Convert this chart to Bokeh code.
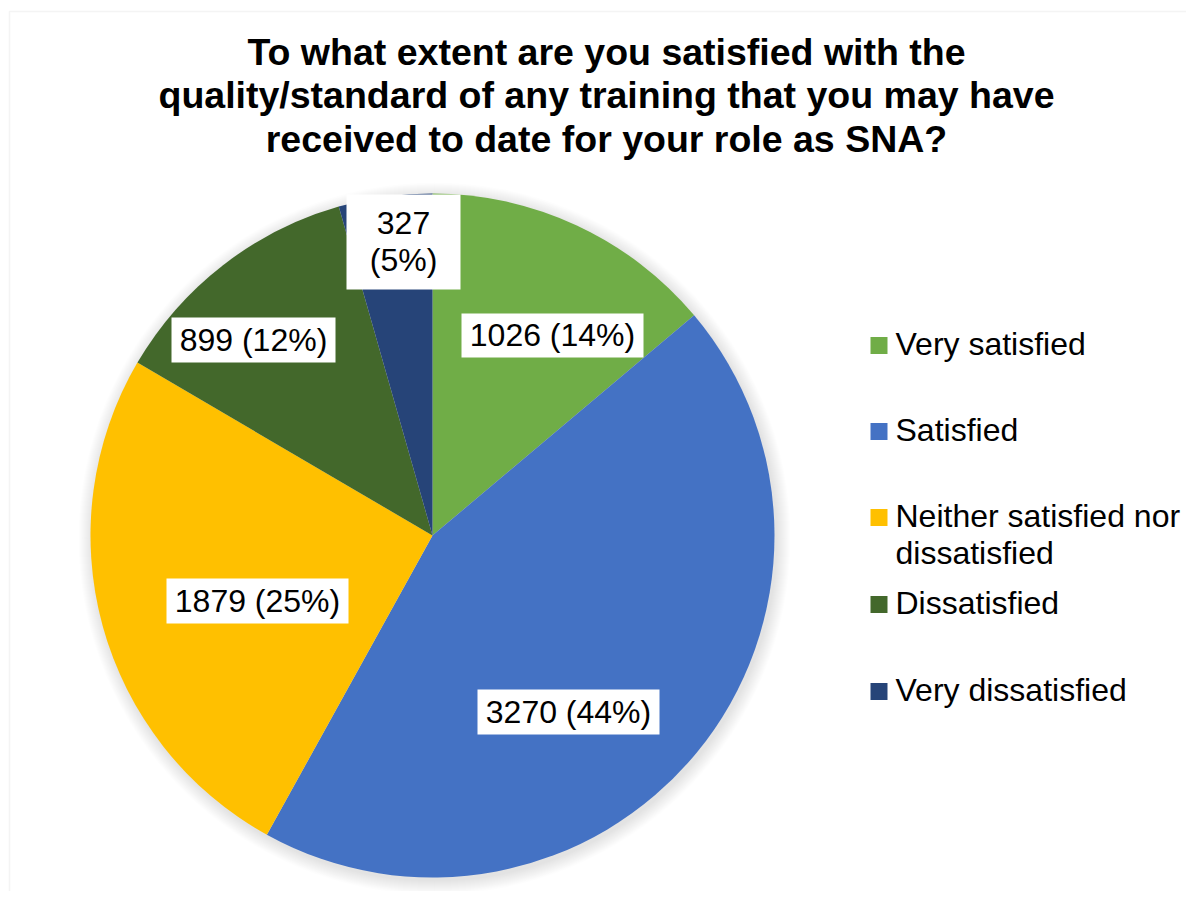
import math
from bokeh.plotting import figure
from bokeh.models import Range1d, BoxAnnotation
from bokeh.core.properties import value
from bokeh.embed import file_html
from bokeh.resources import INLINE

# ---------------- data ----------------
categories = ["Very satisfied", "Satisfied", "Neither satisfied nor dissatisfied",
              "Dissatisfied", "Very dissatisfied"]
legend_lines = [["Very satisfied"], ["Satisfied"], ["Neither satisfied nor", "dissatisfied"],
                ["Dissatisfied"], ["Very dissatisfied"]]
counts = [1026, 3270, 1879, 899, 327]
pct_labels = ["14%", "44%", "25%", "12%", "5%"]
colors = ["#70AD47", "#4472C4", "#FFC000", "#43682B", "#264478"]
title_lines = ["To what extent are you satisfied with the",
               "quality/standard of any training that you may have",
               "received to date for your role as SNA?"]

# ---------------- layout (page pixels) ----------------
W, H = 1186, 891


def py(page_y):
    return H - page_y


FONT = "Liberation Sans"
LBL_SIZE = 32
TITLE_SIZE = 37.5
cx, cy_page, R = 432, 535, 342
cy = py(cy_page)


def base_fix(size):
    # empirical shift so that the drawn alphabetic baseline lands where measured
    return 0.35 * size


# label box offsets from pie centre (page px, dy downward), and box sizes
label_offsets = [(120, -200), (136, 176.5), (-175, 65.5), (-179, -195.5), (-29, -293.5)]
label_box = [(182, 44), (182, 45), (182, 45), (164, 45), (114, 95)]
label_split = [False, False, False, False, True]

p = figure(width=W, height=H, x_range=Range1d(0, W), y_range=Range1d(0, H),
           output_backend="svg", toolbar_location=None, min_border=0)
p.axis.visible = False
p.grid.visible = False
p.outline_line_color = None
p.background_fill_color = "white"
p.border_fill_color = "white"

# chart area border (only top/left visible)
p.add_layout(BoxAnnotation(left=9, right=1400, top=py(11), bottom=-200,
                           fill_alpha=0, line_color="#d9d9d9", line_width=1.5))

# title
for i, t in enumerate(title_lines):
    p.text(x=[606], y=[py([65, 108, 152][i] - base_fix(TITLE_SIZE))], text=[t],
           text_font=value(FONT), text_font_size=f"{TITLE_SIZE}px", text_font_style="bold",
           text_color="#000000", text_align="center", text_baseline="alphabetic")

# soft shadow
n_sh = 14
p.circle(x=[cx + 2] * n_sh, y=[cy - 3] * n_sh, radius=[R + 1 + k for k in range(n_sh)],
         fill_color="black", fill_alpha=0.009, line_color=None)

# pie
total = sum(counts)
cum = [0]
for c in counts:
    cum.append(cum[-1] + c)
starts = [math.pi / 2 - 2 * math.pi * cum[i + 1] / total for i in range(len(counts))]
ends = [math.pi / 2 - 2 * math.pi * cum[i] / total for i in range(len(counts))]
p.wedge(x=[cx] * len(counts), y=[cy] * len(counts), radius=R,
        start_angle=starts, end_angle=ends, fill_color=colors, line_color=None)

# data labels
for i in range(len(counts)):
    dx, dy = label_offsets[i]
    bx, by_page = cx + dx, cy_page + dy
    bw, bh = label_box[i]
    p.rect(x=[bx], y=[py(by_page)], width=bw, height=bh, fill_color="white", line_color=None)
    if label_split[i]:
        lines = [str(counts[i]), "(" + pct_labels[i] + ")"]
    else:
        lines = [f"{counts[i]} ({pct_labels[i]})"]
    n = len(lines)
    for j, ln in enumerate(lines):
        base = by_page + 11 + (j - (n - 1) / 2) * 37 - base_fix(LBL_SIZE)
        p.text(x=[bx], y=[py(base)], text=[ln], text_font=value(FONT),
               text_font_size=f"{LBL_SIZE}px", text_color="#000000",
               text_align="center", text_baseline="alphabetic")

# legend
leg_sq_y = [345, 431, 517, 604, 691]
for i in range(len(categories)):
    p.rect(x=[878.5], y=[py(leg_sq_y[i])], width=17, height=17, fill_color=colors[i],
           line_color=None)
    for j, ln in enumerate(legend_lines[i]):
        p.text(x=[895], y=[py(leg_sq_y[i] + 10 + j * 37 - base_fix(LBL_SIZE))], text=[ln],
               text_font=value(FONT), text_font_size=f"{LBL_SIZE}px", text_color="#000000",
               text_align="left", text_baseline="alphabetic")

open("out.html", "w").write(file_html(p, INLINE))
